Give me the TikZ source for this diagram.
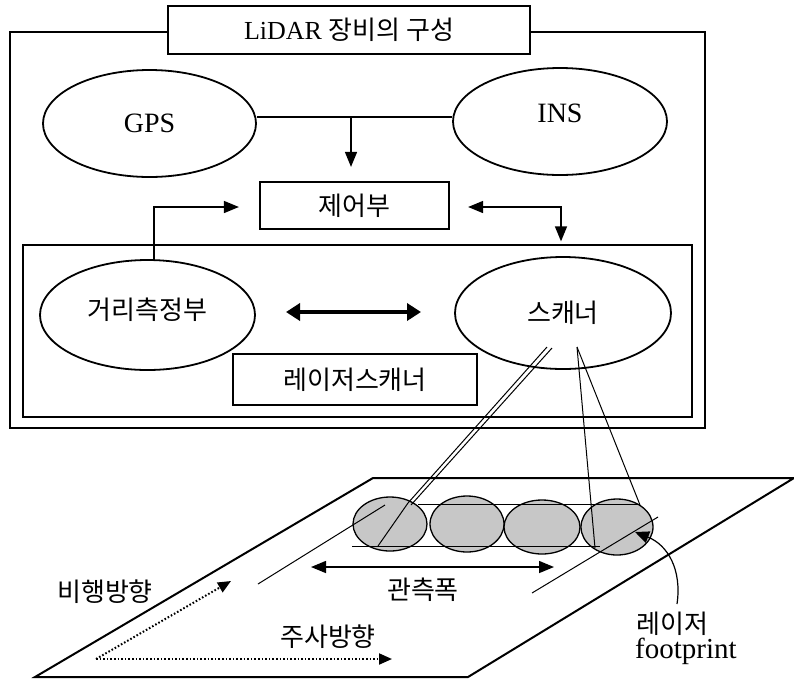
\documentclass[tikz,border=0pt]{standalone}
\usepackage{fontspec}
\setmainfont{Liberation Serif}
\newfontfamily\kr{Noto Sans CJK KR}
\usetikzlibrary{arrows.meta,shapes.geometric}
\begin{document}
\begin{tikzpicture}[x=1pt,y=1pt,
  box/.style={draw, line width=2.2pt, rectangle, inner sep=0pt},
  oval/.style={draw, line width=1.8pt, ellipse, inner sep=0pt},
  kor/.style={font=\kr\fontsize{26}{30}\selectfont},
  latn/.style={font=\fontsize{28}{32}\selectfont},
  conn/.style={line width=1.5pt},
  tip/.style={-{Triangle[length=15pt,width=12pt]}},
  tips/.style={{Triangle[length=15pt,width=12pt]}-{Triangle[length=15pt,width=12pt]}},
  fp/.style={draw, line width=1.3pt, fill=black!22},
  thin/.style={line width=1pt},
  dots/.style={line width=2pt, dash pattern=on 1.6pt off 2pt}
]
\useasboundingbox (0,0) rectangle (794,-681);

% ---------- upper part ----------
\draw[line width=1.3pt] (10,-32) rectangle (705,-428);
\node[box, minimum width=362pt, minimum height=48pt, fill=white] (title) at (349,-30)
  {\fontsize{26}{30}\selectfont LiDAR {\kr\fontsize{26}{30}\selectfont 장비의 구성}};

\node[oval, minimum width=213pt, minimum height=107pt, latn] (gps) at (149.5,-123.5) {GPS};
\node[oval, minimum width=214pt, minimum height=107pt] (ins) at (560,-121.5) {};
\node[latn] (inst) at ([yshift=8pt]ins.center) {INS};
\node[box, minimum width=189pt, minimum height=47pt, kor] (ctrl) at (354.5,-205.5) {제어부};

\node[draw, line width=1.3pt, minimum width=669pt, minimum height=172pt, inner sep=0pt] (lsbox) at (357.5,-331) {};
\node[oval, minimum width=215pt, minimum height=110pt] (dist) at (147.5,-315) {};
\node[kor] (distt) at ([yshift=5pt]dist.center) {거리측정부};
\node[oval, minimum width=216pt, minimum height=112pt, kor] (scan) at (563,-313) {스캐너};
\node[box, minimum width=244pt, minimum height=51pt, kor] (ls) at (355,-379.5) {레이저스캐너};

% GPS - INS line and arrow to control
\coordinate (j1) at (351,-117);
\draw[conn] (gps.east |- j1) -- (ins.west |- j1);
\draw[conn, tip, shorten >=14pt] (j1) -- (j1 |- ctrl.north);
% ranging unit -> control
\coordinate (r1) at (154,-259);
\coordinate (r2) at (154,-207);
\draw[conn, tip, shorten >=20pt] (r1) -- (r2) -- (r2 -| ctrl.west);
% control <-> scanner
\coordinate (s1) at (561,-207);
\draw[conn, tips, shorten <=18pt, shorten >=3pt] (ctrl.east |- s1) -- (s1) -- (s1 |- lsbox.north);
% ranging <-> scanner thick
\coordinate (d1) at (286,-312);
\coordinate (d2) at (421,-312);
\draw[line width=4pt, {Triangle[length=14pt,width=17pt]}-{Triangle[length=14pt,width=17pt]}] (d1) -- (d2);

% ---------- lower part ----------
\coordinate (p1) at (373,-478);
\coordinate (p2) at (794,-478);
\coordinate (p3) at (468,-677);
\coordinate (p4) at (35,-677);
\draw[line width=2pt, line join=miter] (p1) -- (p2) -- (p3) -- (p4) -- cycle;

\node[fp, ellipse, minimum width=74pt, minimum height=54pt, inner sep=0pt] (f1) at (390,-524) {};
\node[fp, ellipse, minimum width=74pt, minimum height=56pt, inner sep=0pt] (f2) at (467,-524) {};
\node[fp, ellipse, minimum width=76pt, minimum height=54pt, inner sep=0pt] (f3) at (542,-527) {};
\node[fp, ellipse, minimum width=72pt, minimum height=56pt, inner sep=0pt] (f4) at (617,-527) {};

% swath lines
\draw[thin] (418,-504) -- (640,-504);
\draw[thin] (352,-546) -- (600,-546);
\draw[thin] (258,-584) -- (385,-505);
\draw[thin] (532,-593) -- (658,-517);

% laser beams
\coordinate (b0) at (547,-347);
\coordinate (b1) at (408,-503);
\coordinate (b2) at (378,-546);
\coordinate (c0) at (577,-347);
\draw[thin] (b0) -- (b1) -- (b2);
\draw[thin] (552,-348) -- (411,-505);
\draw[thin] (c0) -- (595,-548);
\draw[thin] (c0) -- (640,-505);

% swath width arrow
\coordinate (w1) at (311,-567);
\coordinate (w2) at (554,-567);
\draw[conn, tips] (w1) -- (w2);
\node[kor] (swl) at (423,-590) {관측폭};

% direction arrows
\coordinate (o) at (96,-659);
\coordinate (fl) at (231,-581);
\coordinate (sc) at (392,-659);
\draw[dots, -{Triangle[length=13pt,width=11pt]}] (o) -- (fl);
\draw[dots, -{Triangle[length=13pt,width=11pt]}] (o) -- (sc);
\node[kor] (fdir) at (105,-592) {비행방향};
\node[kor] (sdir) at (328,-637) {주사방향};

% footprint label
\node[kor, anchor=west, inner sep=0pt] (fpl1) at (636,-624) {레이저};
\node[font=\fontsize{29}{32}\selectfont, anchor=west, inner sep=0pt] (fpl2) at (635,-651) {footprint};
\coordinate (fs) at (677,-604);
\coordinate (fa) at (635,-532);
\draw[line width=1.2pt, -{Triangle[length=14pt,width=12pt]}] (fs) .. controls (682,-570) and (668,-545) .. (fa);
\end{tikzpicture}
\end{document}
